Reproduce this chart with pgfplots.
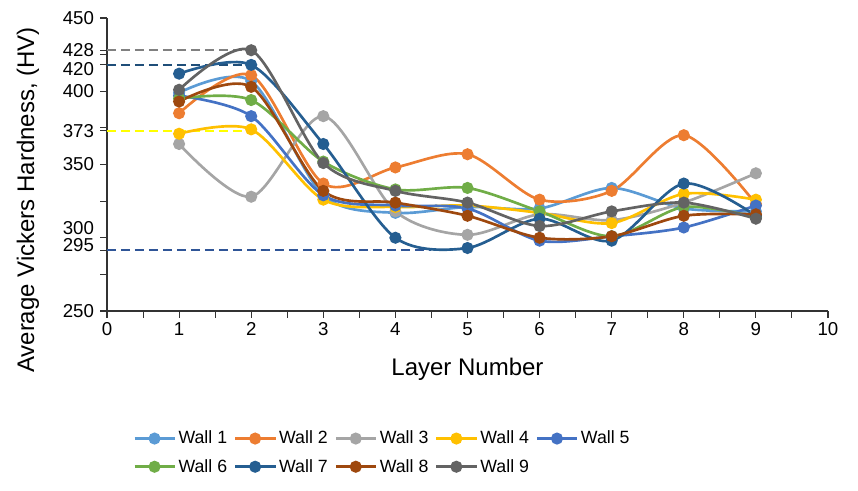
\documentclass[border=0pt]{standalone}
\usepackage{pgfplots}
\pgfplotsset{compat=1.18}
\usepackage{fontspec}
\setmainfont{Liberation Sans}
\definecolor{w1}{HTML}{5B9BD5}
\definecolor{w2}{HTML}{ED7D31}
\definecolor{w3}{HTML}{A5A5A5}
\definecolor{w4}{HTML}{FFC000}
\definecolor{w5}{HTML}{4472C4}
\definecolor{w6}{HTML}{70AD47}
\definecolor{w7}{HTML}{255E91}
\definecolor{w8}{HTML}{9E480E}
\definecolor{w9}{HTML}{636363}
\definecolor{dgray}{HTML}{808080}
\definecolor{dblue}{HTML}{1F4E79}
\definecolor{dblue2}{HTML}{2F5597}
\definecolor{dyel}{HTML}{FFFF00}
\pgfplotsset{wall/.style={color=#1, smooth, line width=2pt, mark=*, mark size=3.5pt, mark options={solid}},
  refline/.style={color=#1, line width=1.6pt, dash pattern=on 7pt off 3.5pt, forget plot}}
\begin{document}
\begin{tikzpicture}
\begin{axis}[name=ax, scale only axis, width=540.75pt, height=219.75pt,
  xmin=0, xmax=10, ymin=250, ymax=450,
  xtick={0,1,...,10}, minor xtick={0.5,1.5,...,9.5},
  ytick={250,300,...,450}, minor ytick={275,325,375,425},
  axis x line*=bottom, axis y line*=left,
  tick align=outside, major tick length=5pt, minor tick length=5pt,
  every tick/.style={black!80, line width=0.8pt},
  axis line style={black!80, line width=0.8pt},
  /pgf/number format/assume math mode=true,
  tick label style={font=\fontsize{14}{14}\selectfont},
  yticklabel style={inner xsep=4.6pt, inner ysep=0pt},
  yticklabel={\pgfmathparse{\tick==300 ? 1 : 0}\ifdim\pgfmathresult pt>0.5pt\raisebox{7.5pt}[\height][\depth]{\pgfmathprintnumber{\tick}}\else\pgfmathprintnumber{\tick}\fi},
  extra y ticks={428,418,373,291.5},
  extra y tick labels={428,\raisebox{-3pt}[\height][\depth]{420},373,\raisebox{4pt}[\height][\depth]{295}},
  extra y tick style={tick label style={font=\fontsize{14}{14}\selectfont, inner xsep=4.6pt, inner ysep=0pt}},
  xlabel={Layer Number}, ylabel={Average Vickers Hardness, (HV)},
  label style={font=\fontsize{18}{18}\selectfont},
  xlabel style={at={(0.5,-0.2)}, anchor=center},
  ylabel style={at={(-0.1096,0.379)}, anchor=center, rotate=0},
  legend columns=5,
  legend cell align=left,
  legend style={at={(0.036,-0.40)}, anchor=north west, draw=none, fill=none,
    font=\fontsize{13.3}{15}\selectfont, inner sep=0pt,
    /tikz/every even column/.append style={column sep=3pt},
    /tikz/every odd column/.append style={column sep=0pt}, row sep=6pt},
  legend image code/.code={\draw[mark repeat=2,mark phase=2] plot coordinates {(0pt,0pt) (15pt,0pt) (30pt,0pt)};},
]
\addplot[refline=dgray] coordinates {(0,428) (2,428)};
\addplot[refline=dblue] coordinates {(0,418) (2,418)};
\addplot[refline=dyel] coordinates {(0,373) (2,373)};
\addplot[refline=dblue2] coordinates {(0,291.5) (4.5,291.5)};

\addplot[wall=w1] coordinates {(1,399)(2,407)(3,329)(4,317)(5,321)(6,320)(7,334)(8,320)(9,318)};
\addlegendentry{Wall 1}
\addplot[wall=w2] coordinates {(1,385)(2,411)(3,337)(4,348)(5,357)(6,326)(7,332)(8,370)(9,323)};
\addlegendentry{Wall 2}
\addplot[wall=w3] coordinates {(1,364)(2,328)(3,383)(4,318)(5,302)(6,316)(7,312)(8,324)(9,344)};
\addlegendentry{Wall 3}
\addplot[wall=w4] coordinates {(1,371)(2,374)(3,326)(4,321)(5,322)(6,317)(7,310)(8,330)(9,326)};
\addlegendentry{Wall 4}
\addplot[wall=w5] coordinates {(1,397)(2,383)(3,329)(4,322)(5,320)(6,298)(7,301)(8,307)(9,322)};
\addlegendentry{Wall 5}
\addplot[wall=w6] coordinates {(1,395)(2,394)(3,352)(4,333)(5,334)(6,318)(7,301)(8,321)(9,314)};
\addlegendentry{Wall 6}
\addplot[wall=w7] coordinates {(1,412)(2,418)(3,364)(4,300)(5,293)(6,313)(7,298)(8,337)(9,315)};
\addlegendentry{Wall 7}
\addplot[wall=w8] coordinates {(1,393)(2,403)(3,332)(4,324)(5,315)(6,300)(7,301)(8,315)(9,316)};
\addlegendentry{Wall 8}
\addplot[wall=w9] coordinates {(1,401)(2,428)(3,351)(4,332)(5,324)(6,308)(7,318)(8,324)(9,313)};
\addlegendentry{Wall 9}
\end{axis}
\pgfresetboundingbox
\path[use as bounding box] ([shift={(-80.25pt,-134.25pt)}]ax.south west) rectangle ([shift={(563.25pt,233.25pt)}]ax.south west);
\end{tikzpicture}
\end{document}
